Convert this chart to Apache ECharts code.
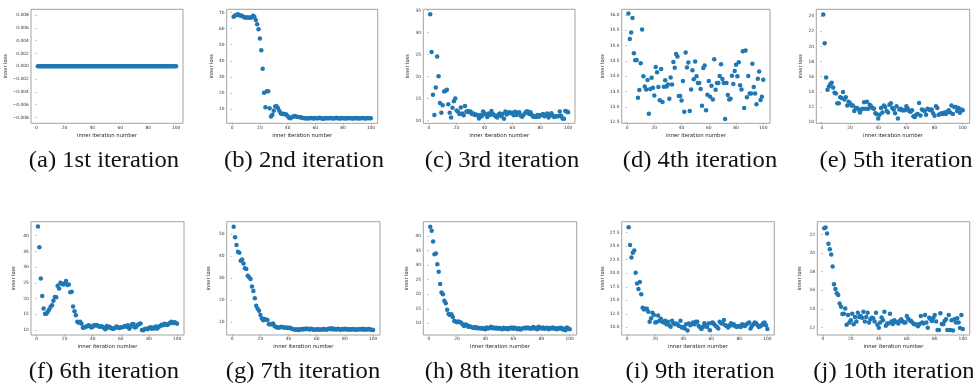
<!DOCTYPE html>
<html><head><meta charset="utf-8">
<script src="https://cdn.jsdelivr.net/npm/echarts@6/dist/echarts.min.js"></script>
<style>html,body{margin:0;padding:0;background:#fff}#c{width:973px;height:387px}</style>
</head><body><div id="c"></div>
<script>
// iteration numbers (x categories)
const iterations = [];
for (let i = 1; i <= 100; i++) iterations.push(i);
const xTicks = [0, 20, 40, 60, 80, 100];

const lossA = [
0,0,0,0,0,0,0,0,0,0, 0,0,0,0,0,0,0,0,0,0, 0,0,0,0,0,0,0,0,0,0, 0,0,0,0,0,0,0,0,0,0, 0,0,0,0,0,0,0,0,0,0,
0,0,0,0,0,0,0,0,0,0, 0,0,0,0,0,0,0,0,0,0, 0,0,0,0,0,0,0,0,0,0, 0,0,0,0,0,0,0,0,0,0, 0,0,0,0,0,0,0,0,0,0];
const lossB = [
67.5,68,68.5,69,68.5,68,68,67.5,67,67, 67,67,66.8,67,68,67.5,65.4,62.7,59.7,53.9,
46.6,35,20,11,21,21,10.4,5.2,6.4,8.9, 11.4,11.6,10.5,8.9,7.2,6.8,6.9,6.7,6.5,5.5,
4.5,4.2,4.8,5.2,5.5,5.2,5.0,4.9,4.8,4.6, 4.3,4.2,4.1,4.0,4.2,4.1,4.3,4.2,4.0,4.3,
4.1,4.2,4.4,4.1,4.0,3.9,4.3,4.2,4.1,4.2, 4.3,4.1,4.0,4.2,4.4,4.1,4.2,4.0,4.3,4.1,
4.2,4.0,4.1,4.3,4.2,4.1,4.0,4.2,4.3,4.1, 4.0,4.2,4.1,4.3,4.2,4.0,4.1,4.3,4.2,4.2];
const lossC = [
34.2,25.6,15.9,11.3,17.5,24.6,20.1,14.0,11.8,13.5, 16.6,16.8,17.0,13.7,11.8,10.7,12.9,14.4,15.0,12.3,
12.0,11.5,13.0,11.6,11.2,13.3,12.0,12.2,11.9,12.1, 11.5,11.6,11.3,11.4,11.2,10.5,11.3,11.0,12.1,11.6,
11.4,10.8,11.6,11.3,12.2,11.5,11.2,11.0,10.7,11.4, 11.6,11.0,11.5,10.4,12.1,11.4,11.8,11.9,11.7,11.8,
11.2,12.0,11.3,11.8,11.9,11.1,10.9,11.3,11.7,12.1, 12.1,11.5,11.9,11.3,10.9,11.0,10.8,11.3,10.9,11.2,
11.3,11.5,11.0,11.3,11.6,10.7,11.3,11.7,11.1,10.8, 11.0,11.0,11.0,12.1,11.1,10.5,10.4,12.2,12.1,11.9];
const lossD = [
16.05,15.22,15.43,15.9,14.75,14.52,14.53,13.3,13.55,14.43, 15.53,14.0,13.67,13.57,13.88,12.78,13.59,13.95,13.63,13.37,
14.3,14.13,13.65,13.22,14.24,13.16,13.66,13.87,13.67,13.73, 13.27,13.96,13.73,14.47,14.28,14.73,14.65,13.36,13.36,13.21,
13.85,12.84,14.78,14.29,14.45,12.87,13.57,14.2,13.9,14.48, 14.0,13.78,13.78,13.59,13.04,14.27,14.35,12.89,13.4,13.85,
13.33,13.69,13.24,14.56,13.56,13.78,13.78,14.01,14.39,13.91, 13.78,12.61,13.78,13.39,13.24,13.27,14.02,13.75,14.17,14.38,
14.0,14.46,13.71,13.57,14.82,12.97,14.84,13.32,14.01,13.44, 13.44,14.41,13.65,13.44,13.09,13.92,14.16,13.23,13.33,13.89];
const lossE = [
24.2,20.4,15.9,14.3,14.7,15.0,15.2,14.6,13.9,13.8, 12.5,12.5,13.3,13.2,14.0,13.0,13.3,12.2,12.7,12.5,
12.2,12.2,11.5,11.9,11.9,11.7,11.3,11.7,11.8,12.65, 11.8,12.7,11.8,12.3,12.1,11.9,11.8,11.2,11.05,10.5,
11.0,11.9,11.3,12.2,12.0,11.5,11.3,12.3,12.5,11.9, 11.7,11.2,12.1,10.5,11.7,11.8,11.6,11.6,11.6,12.1,
11.8,11.5,11.4,11.6,10.8,10.7,11.0,11.1,12.55,10.9, 11.7,11.6,11.5,11.0,11.8,11.7,11.6,11.7,11.2,10.85,
12.1,11.9,11.0,11.1,11.2,11.1,11.3,11.1,11.4,11.6, 11.3,12.2,11.1,12.0,12.0,11.5,11.9,11.25,11.7,11.6];
const lossF = [
42.9,36.3,26.4,20.8,16.8,15.2,15.2,15.8,16.5,17.4, 17.9,19.3,20.5,20.4,24.1,23.2,25.0,24.7,24.5,24.8,
25.6,24.3,24.5,22.0,22.2,17.5,16.0,14.7,12.6,12.3, 12.6,12.0,10.7,10.8,11.0,11.2,11.5,11.3,10.8,11.0,
11.6,11.4,11.6,11.2,11.0,11.2,11.0,10.6,10.2,11.3, 10.8,11.0,10.6,10.4,10.4,10.8,11.1,10.8,10.6,10.9,
10.9,11.0,11.3,11.0,11.5,10.4,11.0,11.8,11.9,10.8, 11.0,11.6,11.9,12.1,10.0,9.9,10.3,10.4,10.2,10.6,
10.9,10.4,10.8,10.5,11.1,10.5,11.0,11.3,11.7,11.5, 12.0,11.8,11.6,11.9,12.3,12.6,12.2,12.5,12.3,12.0];
const lossG = [
53.3,48.5,45.0,42.0,41.5,37.9,38.5,36.7,34.5,34.2, 31.1,30.4,29.6,26.2,24.2,20.9,17.5,16.2,15.3,13.3,
11.8,10.9,11.5,11.2,11.1,9.1,9.1,9.1,9.5,8.3, 7.9,7.7,7.6,7.8,8.0,7.8,7.5,7.7,7.4,7.6,
7.5,7.1,7.0,6.8,6.6,6.9,6.5,6.7,7.0,6.8, 7.1,6.9,7.2,7.0,6.8,7.1,6.9,6.6,6.8,6.7,
6.9,6.6,6.8,6.7,7.0,6.8,6.6,7.0,7.2,6.9, 7.3,6.8,7.0,6.7,7.1,6.9,6.6,7.0,6.8,7.1,
6.7,7.0,6.6,6.9,6.7,7.0,6.8,6.6,6.9,6.7, 7.0,6.8,7.1,6.6,6.9,6.7,7.0,6.8,6.6,6.5];
const lossH = [
43.2,41.8,38.1,33.7,34.0,30.3,27.7,23.5,20.6,20.0, 17.8,16.9,14.7,13.2,12.9,13.1,12.2,10.8,10.6,10.4,
10.6,10.4,10.2,9.6,9.1,9.6,9.4,8.8,9.0,8.7, 8.6,8.4,8.7,8.3,8.5,8.2,8.4,8.1,8.3,8.0,
8.6,8.2,8.4,8.8,8.3,8.6,8.2,8.5,8.1,8.4, 8.2,8.0,8.5,8.1,8.3,8.0,8.4,8.2,8.6,8.1,
8.5,8.2,8.0,8.3,7.9,8.1,8.3,8.5,8.2,8.6, 8.4,8.1,8.3,8.7,8.2,8.5,8.0,8.8,8.4,8.2,
8.6,8.1,8.3,8.5,8.0,8.4,8.2,8.6,8.1,8.3, 8.0,8.4,8.2,8.5,7.9,8.1,7.6,8.6,8.2,8.0];
const lossI = [
28.5,25.2,22.9,23.8,24.2,20.1,18.1,17.1,18.4,16.1, 13.6,13.3,13.45,13.45,12.9,11.05,11.7,12.7,12.3,10.9,
11.0,12.2,11.2,11.6,11.05,10.9,11.2,10.55,11.05,10.4, 10.1,11.2,10.75,10.55,10.7,10.5,10.25,11.2,9.95,10.05,
9.8,10.55,9.4,10.7,10.4,10.55,10.9,10.55,11.05,11.05, 10.25,9.95,9.7,10.05,10.75,10.4,10.05,10.7,9.45,10.8,
10.9,10.55,10.3,10.05,9.8,11.05,10.75,10.7,11.35,10.4, 10.25,9.95,10.3,10.75,10.4,10.55,10.25,10.05,10.2,10.25,
10.05,10.55,10.4,10.25,10.55,10.7,10.9,9.8,10.25,10.55, 10.9,10.75,10.4,10.05,10.25,10.4,10.75,10.9,10.4,9.7];
const lossJ = [
22.65,22.75,22.1,21.0,20.4,19.85,18.55,16.65,16.15,15.7, 15.5,14.6,14.25,13.45,13.5,14.05,12.3,13.35,12.55,12.8,
13.5,12.35,13.15,12.65,13.6,13.15,13.25,13.05,13.7,12.65, 13.15,13.6,12.55,12.9,13.05,13.0,12.65,13.6,12.3,12.0,
12.55,13.1,12.8,13.7,12.2,12.45,12.45,13.5,12.65,12.4, 12.8,12.65,12.55,12.45,12.7,12.9,12.65,12.55,12.55,13.25,
12.95,12.8,12.7,12.55,12.4,12.35,12.3,12.15,12.4,13.25, 12.55,12.45,13.35,12.55,12.0,13.05,12.9,12.7,13.05,13.35,
12.65,11.75,11.75,13.55,12.4,12.35,12.7,12.9,11.75,13.35, 11.75,12.8,11.7,12.9,12.55,13.0,12.55,11.95,13.35,11.85];

const yTicksA = [-0.008,-0.006,-0.004,-0.002,0,0.002,0.004,0.006,0.008];
const yTicksB = [10,20,30,40,50,60,70];
const yTicksC = [10,15,20,25,30,35];
const yTicksD = [12.5,13,13.5,14,14.5,15,15.5,16];
const yTicksE = [10,12,14,16,18,20,22,24];
const yTicksF = [10,15,20,25,30,35,40];
const yTicksG = [10,20,30,40,50];
const yTicksH = [10,15,20,25,30,35,40];
const yTicksI = [10,12.5,15,17.5,20,22.5,25,27.5];
const yTicksJ = [12,14,16,18,20,22];
const yDecimals = [3,0,0,1,0,0,0,0,1,0];
const yRanges = [[-0.0089,0.0089],[1.0,72.1],[9.39,35.3],[12.467,16.186],[9.87,24.88],
                 [8.41,44.45],[4.26,55.58],[5.99,44.92],[8.58,29.53],[11.21,23.36]];
const xRange = [-3.95, 104.95];

const captions = ['(a) 1st iteration','(b) 2nd iteration','(c) 3rd iteration','(d) 4th iteration','(e) 5th iteration',
                  '(f) 6th iteration','(g) 7th iteration','(h) 8th iteration','(i) 9th iteration','(j) 10th iteration'];

const series = [lossA,lossB,lossC,lossD,lossE,lossF,lossG,lossH,lossI,lossJ];
const yTicks = [yTicksA,yTicksB,yTicksC,yTicksD,yTicksE,yTicksF,yTicksG,yTicksH,yTicksI,yTicksJ];

// layout (pixels)
const boxes = [
  {l:31,r:183,t:9.3,b:123.3,g:15}, {l:226.7,r:377.7,t:9.3,b:123.3,g:12.5}, {l:423.3,r:575,t:9.3,b:123.3,g:13.5},
  {l:621.7,r:770,t:9.3,b:123.3,g:16}, {l:816.3,r:969.7,t:9.3,b:123.3,g:13},
  {l:31,r:184,t:221.7,b:335,g:15}, {l:226.7,r:380,t:221.7,b:335,g:15}, {l:423.3,r:576.7,t:221.7,b:335,g:14.5},
  {l:621.7,r:774.3,t:221.7,b:335,g:16}, {l:817.3,r:969.7,t:221.7,b:335,g:15}];
const capPos = [[104,161],[304,161],[502,161],[700,161],[896,161],[104,372],[303,372],[502,372],[700,372],[894,372]];

const frame = '#8c8c8c', tickCol = '#333', dot = '#1f77b4';
const fmt = (v, d) => v.toFixed(d).replace('-', '\u2212');

const grid = [], xAxis = [], yAxis = [], ser = [], graphic = [];
boxes.forEach((b, k) => {
  grid.push({left:b.l, top:b.t, width:b.r-b.l, height:b.b-b.t, show:true, borderColor:frame, borderWidth:0.8,
             containLabel:false, outerBoundsMode:'none'});
  xAxis.push({type:'value', gridIndex:k, min:xRange[0], max:xRange[1],
    axisLine:{show:false}, splitLine:{show:false},
    axisTick:{show:true, length:1.6, customValues:xTicks, lineStyle:{color:frame, width:0.6}},
    axisLabel:{customValues:xTicks, fontSize:4.4, margin:2.2, color:tickCol, fontFamily:'DejaVu Sans'},
    name:'inner iteration number', nameLocation:'middle', nameGap:9.5,
    nameTextStyle:{fontSize:5.3, color:'#222', fontFamily:'DejaVu Sans'}});
  const d = yDecimals[k];
  yAxis.push({type:'value', gridIndex:k, min:yRanges[k][0], max:yRanges[k][1],
    axisLine:{show:false}, splitLine:{show:false},
    axisTick:{show:true, length:1.6, customValues:yTicks[k], lineStyle:{color:frame, width:0.6}},
    axisLabel:{customValues:yTicks[k], fontSize:4.4, margin:2.2, color:tickCol, fontFamily:'DejaVu Sans',
               formatter:(v) => fmt(v, d)},
    name:'inner loss', nameLocation:'middle', nameRotate:90, nameGap:b.g,
    nameTextStyle:{fontSize:5, color:'#222', fontFamily:'DejaVu Sans'}});
  ser.push({type:'scatter', xAxisIndex:k, yAxisIndex:k, symbol:'circle', symbolSize:4.5,
    itemStyle:{color:dot, opacity:1}, silent:true,
    data: iterations.map((x, i) => [x, series[k][i]])});
  graphic.push({type:'text', x:capPos[k][0], y:capPos[k][1], scaleX:1.07,
    style:{text:captions[k], font:'23px "Liberation Serif"', fill:'#111',
           textAlign:'center', textVerticalAlign:'middle', align:'center', verticalAlign:'middle'}});
});

const chart = echarts.init(document.getElementById('c'), null, {renderer:'canvas'});
chart.setOption({backgroundColor:'#fff', animation:false, grid, xAxis, yAxis, series:ser, graphic});
</script></body></html>
